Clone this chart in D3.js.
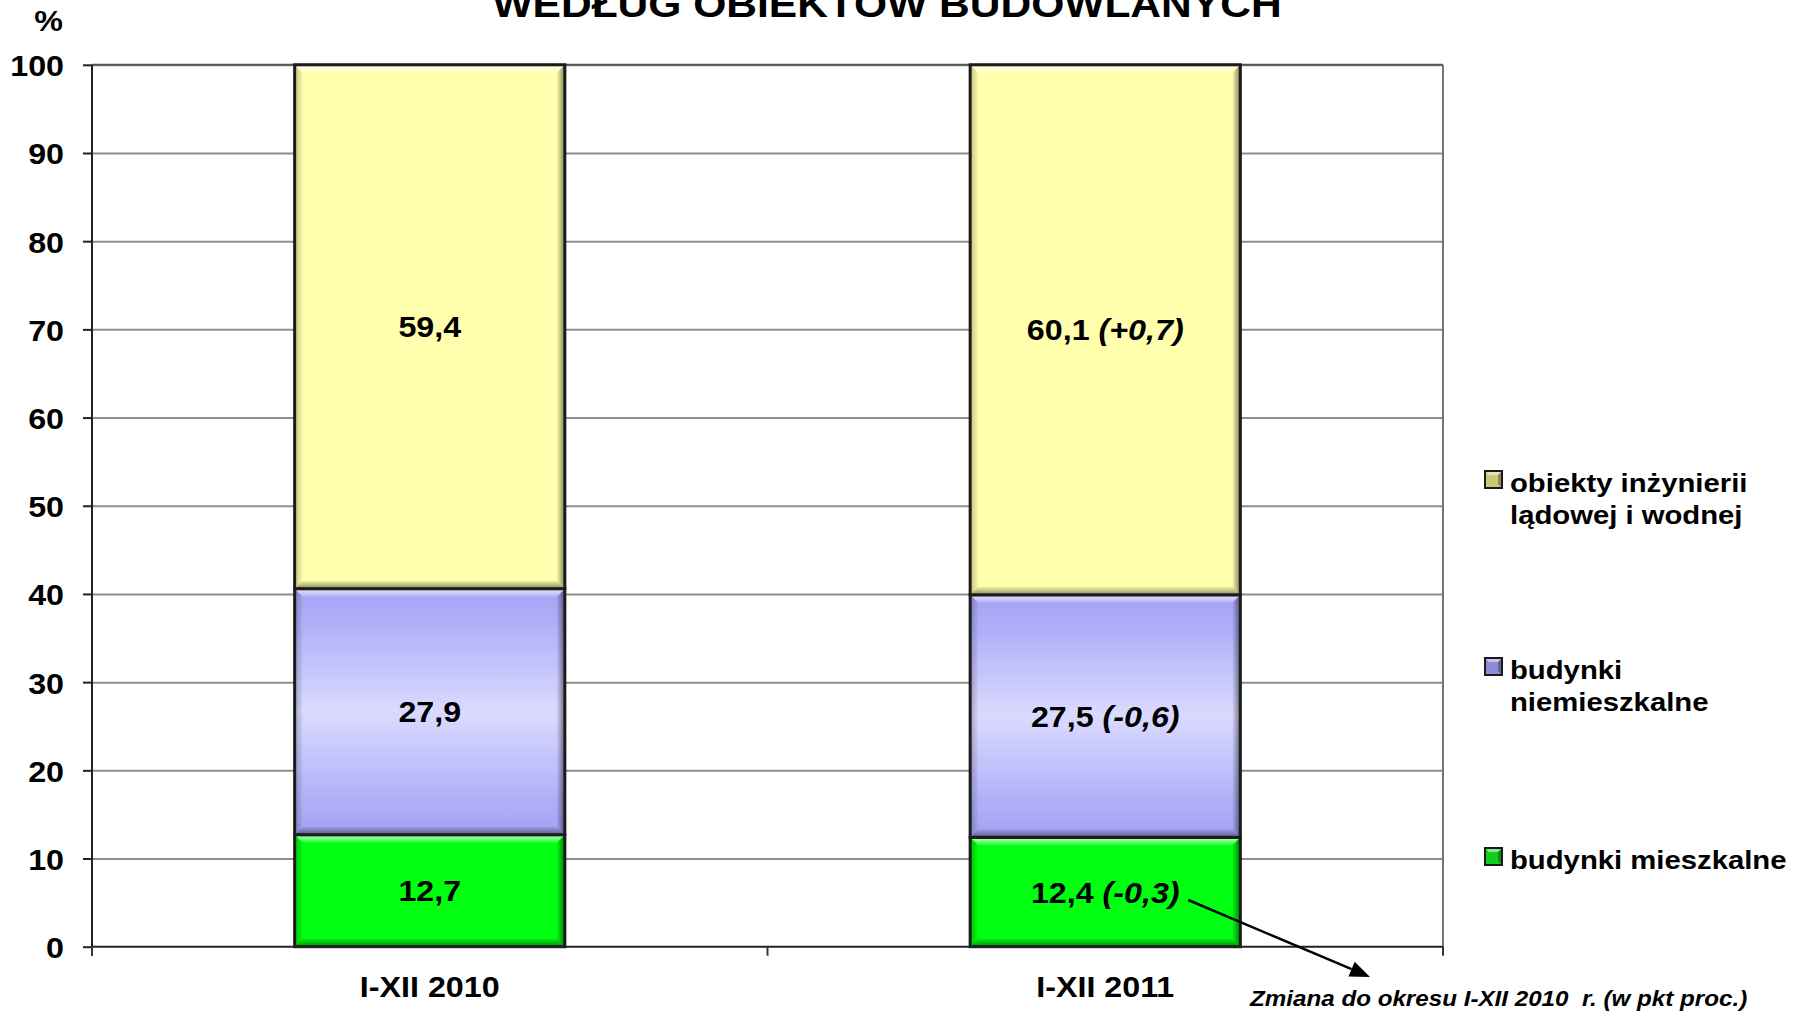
<!DOCTYPE html>
<html>
<head>
<meta charset="utf-8">
<script src="https://cdn.jsdelivr.net/npm/d3@7"></script>
<style>
  html, body { margin: 0; padding: 0; background: #ffffff; }
  svg { display: block; }
  text { font-family: "Liberation Sans", Arial, sans-serif; font-weight: bold; fill: #000; }
</style>
</head>
<body>
<svg id="chart" width="1799" height="1014"></svg>
<script>
// ---- data ----
const categories = ["I-XII 2010", "I-XII 2011"];
const seriesNames = ["budynki mieszkalne", "budynki niemieszkalne", "obiekty inżynierii lądowej i wodnej"];
const mieszkalne = [12.7, 12.4];
const niemieszkalne = [27.9, 27.5];
const inzynierii = [59.4, 60.1];
const changeMieszkalne = [null, -0.3];
const changeNiemieszkalne = [null, -0.6];
const changeInzynierii = [null, 0.7];
const yTicks = [0, 10, 20, 30, 40, 50, 60, 70, 80, 90, 100];
const legendLines = [["obiekty inżynierii", "lądowej i wodnej"], ["budynki", "niemieszkalne"], ["budynki mieszkalne"]];
const titleText = "WEDŁUG OBIEKTÓW BUDOWLANYCH";
const unitText = "%";
const noteText = "Zmiana do okresu I-XII 2010  r. (w pkt proc.)";

// ---- layout ----
const plot = { left: 92, right: 1443, top: 64.8, bottom: 946.7 };
const svg = d3.select("#chart");

const x = d3.scaleBand().domain(categories).range([plot.left, plot.right]).paddingInner(0.6).paddingOuter(0.3);
const y = d3.scaleLinear().domain([0, 100]).range([plot.bottom, plot.top]);

function place(sel, px, py, sx) { return sel.attr("transform", `translate(${px},${py}) scale(${sx},1)`); }
const fmt = v => d3.format(".1f")(Math.abs(v)).replace(".", ",");
const fmtSigned = v => (v > 0 ? "+" : "-") + fmt(v);

const FS = 30, SX = 1.075;       // ticks, labels, categories
const LFS = 26.5, LSX = 1.105;   // legend

// ---- defs ----
const defs = svg.append("defs");
const pg = defs.append("linearGradient").attr("id", "purpleFill").attr("x1", 0).attr("y1", 0).attr("x2", 0).attr("y2", 1);
[["0%", "#a2a2f4"], ["15%", "#b0b0f9"], ["50%", "#dadaff"], ["85%", "#b0b0f9"], ["100%", "#a2a2f4"]]
  .forEach(([o, c]) => pg.append("stop").attr("offset", o).attr("stop-color", c));
function grad(id, x1, y1, x2, y2, c, a1, a2) {
  const g = defs.append("linearGradient").attr("id", id).attr("x1", x1).attr("y1", y1).attr("x2", x2).attr("y2", y2);
  g.append("stop").attr("offset", "0%").attr("stop-color", c).attr("stop-opacity", a1);
  g.append("stop").attr("offset", "100%").attr("stop-color", c).attr("stop-opacity", a2);
}
grad("bvTop", 0, 0, 0, 1, "#ffffff", 0.75, 0.15);
grad("bvBottom", 0, 1, 0, 0, "#000000", 0.45, 0.05);
grad("bvRight", 1, 0, 0, 0, "#000000", 0.5, 0.02);
grad("bvLeft", 0, 0, 1, 0, "#000000", 0.25, 0.02);

const colors = ["#00ff10", "url(#purpleFill)", "#ffffad"];
const legendColors = ["#0fcf1a", "#8d8dd6", "#c9c97a"];

// ---- title ----
place(svg.append("text"), 887, 17, 1.15).attr("text-anchor", "middle").attr("font-size", 37).text(titleText);
place(svg.append("text"), 48.5, 31, SX).attr("text-anchor", "middle").attr("font-size", FS).text(unitText);

// ---- gridlines ----
svg.append("g").attr("transform", `translate(${plot.left},0)`)
  .call(d3.axisLeft(y).tickValues(yTicks.filter(t => t > 0)).tickSize(-(plot.right - plot.left)).tickFormat(""))
  .call(g => g.select(".domain").remove())
  .call(g => g.selectAll("line").attr("stroke", "#8e8e8e").attr("stroke-width", 2));
svg.append("line").attr("x1", plot.left).attr("x2", plot.right).attr("y1", y(100)).attr("y2", y(100)).attr("stroke", "#555").attr("stroke-width", 2);
svg.append("line").attr("x1", plot.right).attr("x2", plot.right).attr("y1", y(100)).attr("y2", plot.bottom).attr("stroke", "#777").attr("stroke-width", 2);

// ---- bars ----
const stackData = categories.map((c, i) => ({ cat: c, mieszkalne: mieszkalne[i], niemieszkalne: niemieszkalne[i], inzynierii: inzynierii[i] }));
const keys = ["mieszkalne", "niemieszkalne", "inzynierii"];
const changes = [changeMieszkalne, changeNiemieszkalne, changeInzynierii];
const stacked = d3.stack().keys(keys)(stackData);
const bw = x.bandwidth();
const b = 8;

stacked.forEach((layer, si) => {
  layer.forEach((d, ci) => {
    const x0 = x(categories[ci]), y0 = y(d[1]), h = y(d[0]) - y(d[1]), w = bw;
    const g = svg.append("g");
    g.append("rect").attr("x", x0).attr("y", y0).attr("width", w).attr("height", h).attr("fill", colors[si]);
    const poly = (pts, f) => g.append("polygon").attr("points", pts.map(p => p.join(",")).join(" ")).attr("fill", f);
    poly([[x0, y0], [x0 + w, y0], [x0 + w - b, y0 + b], [x0 + b, y0 + b]], "url(#bvTop)");
    poly([[x0, y0 + h], [x0 + w, y0 + h], [x0 + w - b, y0 + h - b], [x0 + b, y0 + h - b]], "url(#bvBottom)");
    poly([[x0 + w, y0], [x0 + w, y0 + h], [x0 + w - b, y0 + h - b], [x0 + w - b, y0 + b]], "url(#bvRight)");
    poly([[x0, y0], [x0, y0 + h], [x0 + b, y0 + h - b], [x0 + b, y0 + b]], "url(#bvLeft)");
    g.append("rect").attr("x", x0).attr("y", y0).attr("width", w).attr("height", h)
      .attr("fill", "none").attr("stroke", "#1c1c1c").attr("stroke-width", 3);
  });
});

// ---- data labels ----
stacked.forEach((layer, si) => {
  layer.forEach((d, ci) => {
    const cx = x(categories[ci]) + bw / 2, cy = (y(d[0]) + y(d[1])) / 2;
    const t = place(svg.append("text"), cx, cy + 10.5, SX).attr("text-anchor", "middle").attr("font-size", FS);
    t.append("tspan").text(fmt(d[1] - d[0]));
    const ch = changes[si][ci];
    if (ch !== null) {
      t.append("tspan").attr("font-style", "italic").text(" (" + fmtSigned(ch) + ")");
    }
  });
});

// ---- axes ----
const yAxisG = svg.append("g").attr("transform", `translate(${plot.left},0)`)
  .call(d3.axisLeft(y).tickValues(yTicks).tickSize(9).tickFormat(""));
yAxisG.select(".domain").attr("stroke", "#222").attr("stroke-width", 2).attr("d", `M0,${y(100)}V${plot.bottom + 9}`);
yAxisG.selectAll("line").attr("stroke", "#222").attr("stroke-width", 2);
yTicks.forEach(t => {
  place(svg.append("text"), 64, y(t) + 11.5, SX).attr("text-anchor", "end").attr("font-size", FS).text(String(t));
});

const xAxisG = svg.append("g").attr("transform", `translate(0,${plot.bottom})`)
  .call(d3.axisBottom(x).tickSize(0).tickFormat(""));
xAxisG.select(".domain").attr("stroke", "#222").attr("stroke-width", 2).attr("d", `M${plot.left},0H${plot.right}`);
const step = x.step();
[plot.left, plot.left + step, plot.right].forEach(px => {
  svg.append("line").attr("x1", px).attr("x2", px).attr("y1", plot.bottom).attr("y2", plot.bottom + 9).attr("stroke", "#333").attr("stroke-width", 2);
});
categories.forEach(c => {
  place(svg.append("text"), x(c) + bw / 2, 997, SX).attr("text-anchor", "middle").attr("font-size", FS).text(c);
});

// ---- legend ----
const legendTop = [471, 658, 848];
const legendOrder = [2, 1, 0];
legendOrder.forEach((si, i) => {
  const ly = legendTop[i];
  const lg = svg.append("g");
  lg.append("rect").attr("x", 1485).attr("y", ly).attr("width", 17).attr("height", 17).attr("fill", legendColors[si]);
  lg.append("polygon").attr("points", `${1485},${ly} ${1502},${ly} ${1498},${ly + 4} ${1489},${ly + 4}`).attr("fill", "#fff").attr("opacity", 0.5);
  lg.append("polygon").attr("points", `${1502},${ly} ${1502},${ly + 17} ${1498},${ly + 13} ${1498},${ly + 4}`).attr("fill", "#000").attr("opacity", 0.3);
  lg.append("rect").attr("x", 1485).attr("y", ly).attr("width", 17).attr("height", 17).attr("fill", "none").attr("stroke", "#1a1a1a").attr("stroke-width", 2);
  const t = place(svg.append("text"), 1510, ly + 20.5, LSX).attr("font-size", LFS);
  legendLines[i].forEach((ln, k) => t.append("tspan").attr("x", 0).attr("dy", k === 0 ? 0 : 32.5).text(ln));
});

// ---- annotation ----
const arrowStart = [x(categories[1]) + bw / 2 + 83, (y(0) + y(mieszkalne[1])) / 2 + 8];
const arrowEnd = [1370, 977];
const ang = Math.atan2(arrowEnd[1] - arrowStart[1], arrowEnd[0] - arrowStart[0]);
const hl = 20, hw = 8;
const base = [arrowEnd[0] - hl * Math.cos(ang), arrowEnd[1] - hl * Math.sin(ang)];
svg.append("line").attr("x1", arrowStart[0]).attr("y1", arrowStart[1]).attr("x2", base[0]).attr("y2", base[1])
  .attr("stroke", "#000").attr("stroke-width", 2.5);
svg.append("polygon").attr("points", [
  arrowEnd,
  [base[0] + hw * Math.sin(ang), base[1] - hw * Math.cos(ang)],
  [base[0] - hw * Math.sin(ang), base[1] + hw * Math.cos(ang)]
].map(p => p.join(",")).join(" ")).attr("fill", "#000");
place(svg.append("text"), 1250, 1006, 1.1).attr("font-size", 22).attr("font-style", "italic")
  .style("white-space", "pre").text(noteText);
</script>
</body>
</html>
